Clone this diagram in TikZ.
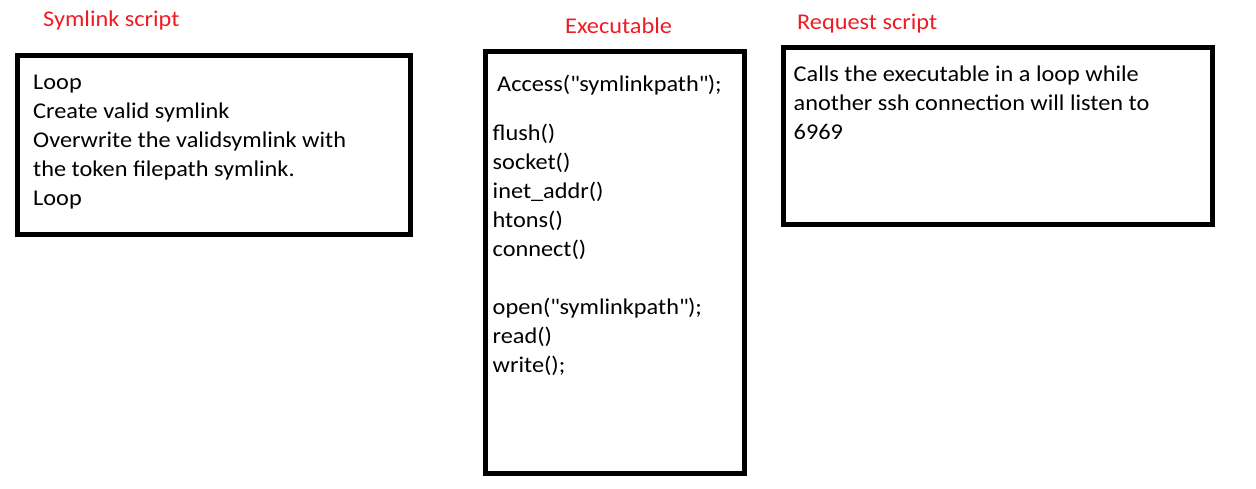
\documentclass[tikz,border=0pt]{standalone}
\usepackage{fontspec}
\setmainfont{Carlito}[FakeStretch=1.08]
\definecolor{titlered}{RGB}{237,28,36}
\newcommand{\dq}{\textquotedbl}
\begin{document}
\begin{tikzpicture}[x=1pt,y=-1pt,
  box/.style={draw=black, line width=5pt, anchor=north west, inner sep=0pt, outer sep=0pt},
  txt/.style={anchor=base west, inner sep=0pt, font=\fontsize{22.5}{29}\selectfont, text=black},
  ttl/.style={anchor=base west, inner sep=0pt, font=\fontsize{22.5}{29}\selectfont, text=titlered}]
\useasboundingbox (0,0) rectangle (1256,488);
% titles
\node[ttl] (t1) at (43,26.7) {Symlink script};
\node[ttl] (t2) at (565,33) {Executable};
\node[ttl] (t3) at (797,29.3) {Request script};
% boxes
\node[box, minimum width=393pt, minimum height=179pt] (symbox) at (17.5,55.5) {};
\node[box, minimum width=259pt, minimum height=422pt] (exebox) at (485.5,51.5) {};
\node[box, minimum width=429pt, minimum height=177pt] (reqbox) at (783.5,47.5) {};
% symlink script text
\node[txt] (s1) at (33,89.3) {Loop};
\node[txt] (s2) at (33,118.3) {Create valid symlink};
\node[txt] (s3) at (33,147.3) {Overwrite the validsymlink with};
\node[txt] (s4) at (33,176.3) {the token filepath symlink.};
\node[txt] (s5) at (33,205.3) {Loop};
% executable text
\node[txt] (e0) at (497,91.7) {Access(\dq symlinkpath\dq);};
\node[txt] (e1) at (492.5,140) {flush()};
\node[txt] (e2) at (492.5,169) {socket()};
\node[txt] (e3) at (492.5,198) {inet\_addr()};
\node[txt] (e4) at (492.5,227) {htons()};
\node[txt] (e5) at (492.5,256) {connect()};
\node[txt] (e6) at (492.5,314) {open(\dq symlinkpath\dq);};
\node[txt] (e7) at (492.5,343) {read()};
\node[txt] (e8) at (492.5,372) {write();};
% request script text
\node[txt] (r1) at (793.5,81.7) {Calls the executable in a loop while};
\node[txt] (r2) at (793.5,110.7) {another ssh connection will listen to};
\node[txt] (r3) at (793.5,139.7) {6969};
\end{tikzpicture}
\end{document}
